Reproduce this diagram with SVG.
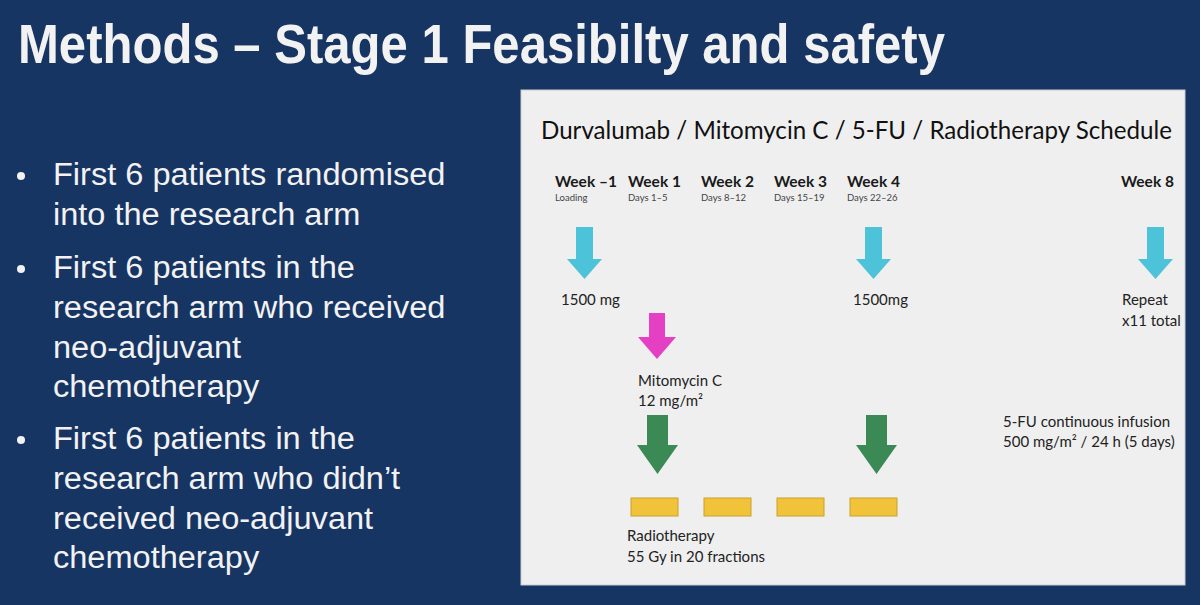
<svg xmlns="http://www.w3.org/2000/svg" width="1200" height="605" viewBox="0 0 1200 605">
  <defs>
    <style>
      .title { font-family: "Liberation Sans", Arial, sans-serif; font-weight: bold; font-size: 55px; fill: #f2f2f2; }
      .bul { font-family: "Liberation Sans", Arial, sans-serif; font-size: 31px; fill: #f2f2f2; }
      .ptitle { font-family: Lato, "Open Sans", sans-serif; font-size: 25px; fill: #111; }
      .wk { font-family: Lato, "Open Sans", sans-serif; font-weight: bold; font-size: 15.5px; fill: #1a1a1a; }
      .sub { font-family: Lato, "Open Sans", sans-serif; font-size: 9.5px; fill: #444; }
      .lbl { font-family: Lato, "Open Sans", sans-serif; font-size: 15px; fill: #222; }
      .cyan { fill: #4cc3d9; }
      .mag { fill: #e53fc3; }
      .grn { fill: #3b8a56; }
      .rt { fill: #f0c33a; stroke: #c9a12a; stroke-width: 1; }
    </style>
  </defs>
  <rect x="0" y="0" width="1200" height="605" fill="#173563"/>
  <g id="heading">
    <text class="title" x="18" y="63" textLength="927" lengthAdjust="spacingAndGlyphs">Methods – Stage 1 Feasibilty and safety</text>
  </g>
  <g id="bullets">
    <circle cx="21" cy="176" r="4" fill="#f2f2f2"/>
    <circle cx="21" cy="269" r="4" fill="#f2f2f2"/>
    <circle cx="21" cy="440" r="4" fill="#f2f2f2"/>
    <g transform="translate(53,0) scale(1.05,1)">
      <text class="bul" x="0" y="185">First 6 patients randomised</text>
      <text class="bul" x="0" y="225">into the research arm</text>
      <text class="bul" x="0" y="278">First 6 patients in the</text>
      <text class="bul" x="0" y="318">research arm who received</text>
      <text class="bul" x="0" y="358">neo-adjuvant</text>
      <text class="bul" x="0" y="397">chemotherapy</text>
      <text class="bul" x="0" y="449">First 6 patients in the</text>
      <text class="bul" x="0" y="489">research arm who didn’t</text>
      <text class="bul" x="0" y="529">received neo-adjuvant</text>
      <text class="bul" x="0" y="568">chemotherapy</text>
    </g>
  </g>
  <g id="panel">
    <rect x="521" y="90" width="664" height="495" fill="#efefef" stroke="#c8ccd2" stroke-width="1"/>
    <text class="ptitle" x="541" y="139" textLength="631" lengthAdjust="spacingAndGlyphs">Durvalumab / Mitomycin C / 5-FU / Radiotherapy Schedule</text>
  </g>
  <g id="weeks">
    <text class="wk" x="555" y="187">Week –1</text>
    <text class="sub" x="555" y="201">Loading</text>
    <text class="wk" x="628" y="187">Week 1</text>
    <text class="sub" x="628" y="201">Days 1–5</text>
    <text class="wk" x="701" y="187">Week 2</text>
    <text class="sub" x="701" y="201">Days 8–12</text>
    <text class="wk" x="774" y="187">Week 3</text>
    <text class="sub" x="774" y="201">Days 15–19</text>
    <text class="wk" x="847" y="187">Week 4</text>
    <text class="sub" x="847" y="201">Days 22–26</text>
    <text class="wk" x="1121" y="187">Week 8</text>
  </g>
  <g id="durvalumab">
    <path class="cyan" d="M576,227 h17 v32 h9 l-17.5,20 l-17.5,-20 h9 z"/>
    <text class="lbl" x="561" y="305">1500 mg</text>
    <path class="cyan" d="M865,227 h17 v32 h9 l-17.5,20 l-17.5,-20 h9 z"/>
    <text class="lbl" x="853" y="305">1500mg</text>
    <path class="cyan" d="M1147,227 h17 v32 h9 l-17.5,20 l-17.5,-20 h9 z"/>
    <text class="lbl" x="1122" y="305">Repeat</text>
    <text class="lbl" x="1122" y="326">x11 total</text>
  </g>
  <g id="mitomycin">
    <path class="mag" d="M649,313 h16 v24 h11 l-19,22 l-19,-22 h11 z"/>
    <text class="lbl" x="638" y="386">Mitomycin C</text>
    <text class="lbl" x="638" y="406">12 mg/m²</text>
  </g>
  <g id="fu5">
    <path class="grn" d="M647,415 h21 v30 h10 l-20.5,29 l-20.5,-29 h10 z"/>
    <path class="grn" d="M866,415 h21 v30 h10 l-20.5,29 l-20.5,-29 h10 z"/>
    <text class="lbl" x="1003" y="427">5-FU continuous infusion</text>
    <text class="lbl" x="1003" y="447">500 mg/m² / 24 h (5 days)</text>
  </g>
  <g id="radiotherapy">
    <rect class="rt" x="631" y="498" width="47" height="18"/>
    <rect class="rt" x="704" y="498" width="47" height="18"/>
    <rect class="rt" x="777" y="498" width="47" height="18"/>
    <rect class="rt" x="850" y="498" width="47" height="18"/>
    <text class="lbl" x="627" y="541">Radiotherapy</text>
    <text class="lbl" x="627" y="562">55 Gy in 20 fractions</text>
  </g>
  <g id="connectors"></g>
</svg>
